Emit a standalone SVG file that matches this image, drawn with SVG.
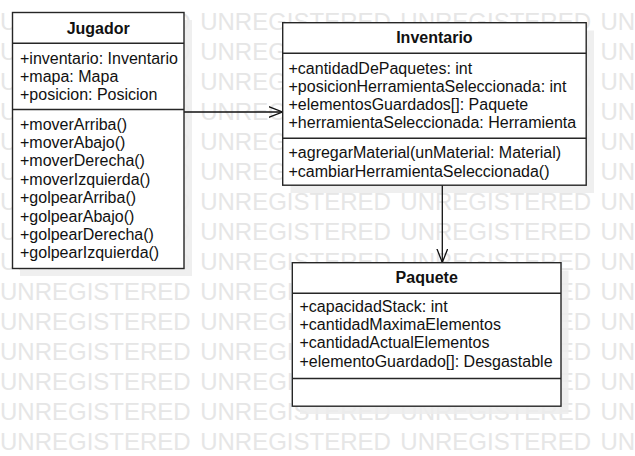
<svg xmlns="http://www.w3.org/2000/svg" width="635" height="456" viewBox="0 0 635 456">
<style>
.wm{font-family:"Liberation Sans",Arial,sans-serif;font-size:24px;fill:#e6e6e6;word-spacing:2.8px}
.box{fill:#fff;stroke:#262626;stroke-width:1.4}
.div{stroke:#262626;stroke-width:1.4}
.sh{fill:#ececec;opacity:0.85}
.t{font-family:"Liberation Sans",Arial,sans-serif;font-size:16px;fill:#111}
.title{font-family:"Liberation Sans",Arial,sans-serif;font-size:16px;font-weight:bold;fill:#111;text-anchor:middle}
.edge{stroke:#111;stroke-width:1.3;fill:none}
</style>
<defs>
<marker id="open" markerWidth="16" markerHeight="14" refX="14" refY="6" orient="auto" markerUnits="userSpaceOnUse">
<path d="M0,0.5 L14,6 L0,11.5" fill="none" stroke="#111" stroke-width="1.3"/>
</marker>
</defs>
<rect width="635" height="456" fill="#fff"/>
<g id="watermark" class="wm">
<text x="0" y="30">UNREGISTERED UNREGISTERED UNREGISTERED UNREGISTERED</text>
<text x="0" y="60">UNREGISTERED UNREGISTERED UNREGISTERED UNREGISTERED</text>
<text x="0" y="90">UNREGISTERED UNREGISTERED UNREGISTERED UNREGISTERED</text>
<text x="0" y="120">UNREGISTERED UNREGISTERED UNREGISTERED UNREGISTERED</text>
<text x="0" y="150">UNREGISTERED UNREGISTERED UNREGISTERED UNREGISTERED</text>
<text x="0" y="180">UNREGISTERED UNREGISTERED UNREGISTERED UNREGISTERED</text>
<text x="0" y="210">UNREGISTERED UNREGISTERED UNREGISTERED UNREGISTERED</text>
<text x="0" y="240">UNREGISTERED UNREGISTERED UNREGISTERED UNREGISTERED</text>
<text x="0" y="270">UNREGISTERED UNREGISTERED UNREGISTERED UNREGISTERED</text>
<text x="0" y="300">UNREGISTERED UNREGISTERED UNREGISTERED UNREGISTERED</text>
<text x="0" y="330">UNREGISTERED UNREGISTERED UNREGISTERED UNREGISTERED</text>
<text x="0" y="360">UNREGISTERED UNREGISTERED UNREGISTERED UNREGISTERED</text>
<text x="0" y="390">UNREGISTERED UNREGISTERED UNREGISTERED UNREGISTERED</text>
<text x="0" y="420">UNREGISTERED UNREGISTERED UNREGISTERED UNREGISTERED</text>
<text x="0" y="450">UNREGISTERED UNREGISTERED UNREGISTERED UNREGISTERED</text>
</g>
<g id="shadows">
<rect class="sh" x="20" y="20" width="172" height="256"/>
<rect class="sh" x="290.5" y="30.5" width="303.5" height="162.5"/>
<rect class="sh" x="300" y="270.5" width="268.5" height="143.5"/>
</g>
<g id="connectors">
<line class="edge" x1="184" y1="112" x2="282.5" y2="112" marker-end="url(#open)"/>
<line class="edge" x1="442.3" y1="185" x2="442.3" y2="262.5" marker-end="url(#open)"/>
</g>
<g id="Jugador">
<rect class="box" x="12.5" y="12.5" width="171.5" height="256"/>
<line class="div" x1="12.5" y1="43.3" x2="184" y2="43.3"/>
<line class="div" x1="12.5" y1="109.5" x2="184" y2="109.5"/>
<text class="title" x="98.2" y="34">Jugador</text>
<text class="t" x="20" y="64">+inventario: Inventario</text>
<text class="t" x="20" y="82">+mapa: Mapa</text>
<text class="t" x="20" y="100">+posicion: Posicion</text>
<text class="t" x="20" y="129.5">+moverArriba()</text>
<text class="t" x="20" y="147.9">+moverAbajo()</text>
<text class="t" x="20" y="166.3">+moverDerecha()</text>
<text class="t" x="20" y="184.7">+moverIzquierda()</text>
<text class="t" x="20" y="203.1">+golpearArriba()</text>
<text class="t" x="20" y="221.5">+golpearAbajo()</text>
<text class="t" x="20" y="239.9">+golpearDerecha()</text>
<text class="t" x="20" y="258.3">+golpearIzquierda()</text>
</g>
<g id="Inventario">
<rect class="box" x="282.7" y="22.7" width="303.5" height="162.5"/>
<line class="div" x1="282.7" y1="53.3" x2="586.2" y2="53.3"/>
<line class="div" x1="282.7" y1="138.3" x2="586.2" y2="138.3"/>
<text class="title" x="434.4" y="43">Inventario</text>
<text class="t" x="288.5" y="74">+cantidadDePaquetes: int</text>
<text class="t" x="288.5" y="92">+posicionHerramientaSeleccionada: int</text>
<text class="t" x="288.5" y="110">+elementosGuardados[]: Paquete</text>
<text class="t" x="288.5" y="128">+herramientaSeleccionada: Herramienta</text>
<text class="t" x="288.5" y="158">+agregarMaterial(unMaterial: Material)</text>
<text class="t" x="288.5" y="176.5">+cambiarHerramientaSeleccionada()</text>
</g>
<g id="Paquete">
<rect class="box" x="292.3" y="262.7" width="268.7" height="143.5"/>
<line class="div" x1="292.3" y1="293.3" x2="561" y2="293.3"/>
<line class="div" x1="292.3" y1="378.5" x2="561" y2="378.5"/>
<text class="title" x="426.7" y="283">Paquete</text>
<text class="t" x="299.5" y="312">+capacidadStack: int</text>
<text class="t" x="299.5" y="330">+cantidadMaximaElementos</text>
<text class="t" x="299.5" y="348">+cantidadActualElementos</text>
<text class="t" x="299.5" y="366.5">+elementoGuardado[]: Desgastable</text>
</g>
</svg>
